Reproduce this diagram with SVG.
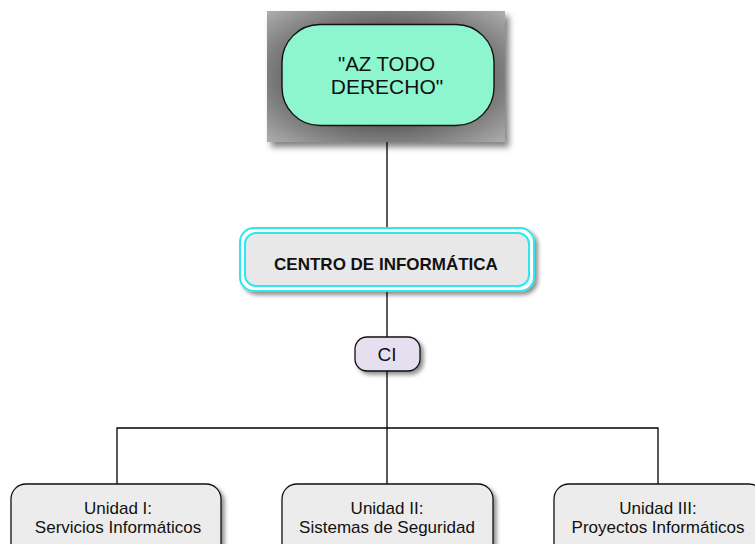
<svg xmlns="http://www.w3.org/2000/svg" width="755" height="544" viewBox="0 0 755 544">
<defs>
<radialGradient id="gbg" cx="0.5" cy="0.5" r="0.75">
<stop offset="0.3" stop-color="#3e3e3e"/>
<stop offset="1" stop-color="#b8b8b8"/>
</radialGradient>
<filter id="sh" x="-20%" y="-20%" width="150%" height="150%">
<feGaussianBlur in="SourceAlpha" stdDeviation="3"/>
<feOffset dx="4" dy="5"/>
<feComponentTransfer><feFuncA type="linear" slope="0.5"/></feComponentTransfer>
<feMerge><feMergeNode/><feMergeNode in="SourceGraphic"/></feMerge>
</filter>
<filter id="sh2" x="-20%" y="-20%" width="150%" height="150%">
<feGaussianBlur in="SourceAlpha" stdDeviation="2"/>
<feOffset dx="3" dy="3"/>
<feComponentTransfer><feFuncA type="linear" slope="0.45"/></feComponentTransfer>
<feMerge><feMergeNode/><feMergeNode in="SourceGraphic"/></feMerge>
</filter>
</defs>
<style>
.ln{stroke:#000;stroke-width:1.3;fill:none}
.t{font-family:"Liberation Sans",Arial,sans-serif;fill:#111;text-anchor:middle}
.unit{fill:#ececec;stroke:#111;stroke-width:1.3}
.ut{font-size:17px}
</style>
<g id="connectors">
<line class="ln" x1="387" y1="140" x2="387" y2="232"/>
<line class="ln" x1="387" y1="292" x2="387" y2="340"/>
<line class="ln" x1="387" y1="371" x2="387" y2="485"/>
<polyline class="ln" points="117,485 117,428 658,428 658,485"/>
</g>
<g id="node-az">
<rect x="267" y="11" width="238" height="131" fill="url(#gbg)" filter="url(#sh)"/>
<rect x="282" y="24.5" width="212" height="101" rx="38" ry="38" fill="#8ef6cf" stroke="#111" stroke-width="1.4"/>
<text class="t" x="386.5" y="71" font-size="21" textLength="97" lengthAdjust="spacingAndGlyphs">"AZ TODO</text>
<text class="t" x="387" y="94" font-size="21">DERECHO"</text>
</g>
<g id="node-centro">
<rect x="240" y="228" width="294" height="63" rx="14" ry="14" fill="#ffffff" stroke="#2ee8f0" stroke-width="2" filter="url(#sh2)"/>
<rect x="245" y="233" width="284" height="53" rx="11" ry="11" fill="#e8e8e8" stroke="#2ee8f0" stroke-width="2"/>
<text class="t" x="386" y="270" font-size="17" font-weight="bold">CENTRO DE INFORMÁTICA</text>
</g>
<g id="node-ci">
<rect x="355" y="337" width="65" height="34" rx="12" ry="12" fill="#e6dff0" stroke="#111" stroke-width="1.3" filter="url(#sh2)"/>
<text class="t" x="387" y="361" font-size="19">CI</text>
</g>
<g id="node-u1">
<rect class="unit" x="11" y="484" width="210" height="80" rx="15" ry="15" filter="url(#sh2)"/>
<text class="t ut" x="118" y="514">Unidad I:</text>
<text class="t ut" x="118" y="533">Servicios Informáticos</text>
</g>
<g id="node-u2">
<rect class="unit" x="282" y="484" width="211" height="80" rx="15" ry="15" filter="url(#sh2)"/>
<text class="t ut" x="387" y="514">Unidad II:</text>
<text class="t ut" x="387" y="533">Sistemas de Seguridad</text>
</g>
<g id="node-u3">
<rect class="unit" x="554" y="484" width="210" height="80" rx="15" ry="15" filter="url(#sh2)"/>
<text class="t ut" x="658" y="514">Unidad III:</text>
<text class="t ut" x="658" y="533">Proyectos Informáticos</text>
</g>
</svg>
